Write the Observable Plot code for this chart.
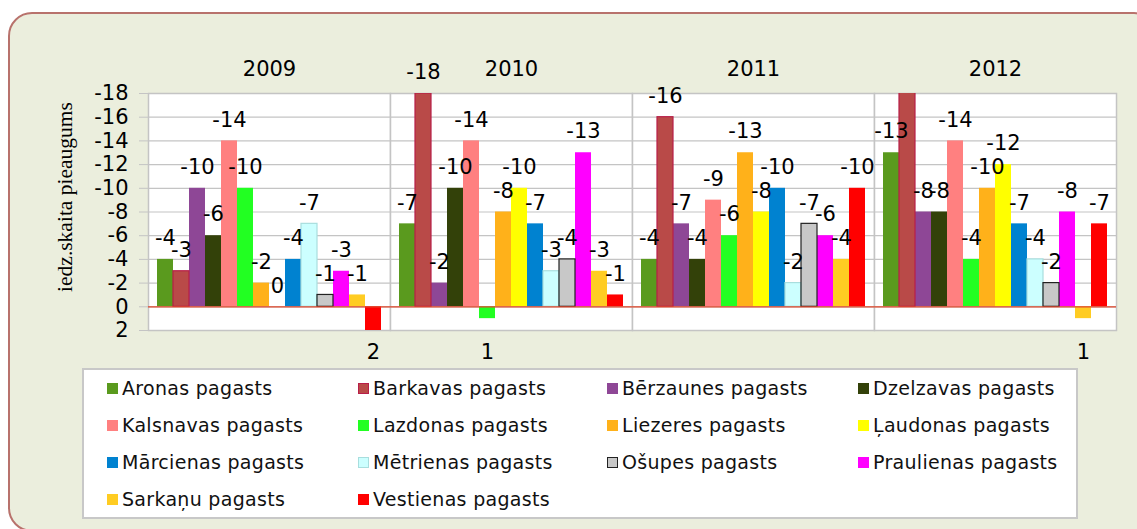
<!DOCTYPE html>
<html>
<head>
<meta charset="utf-8">
<script src="https://cdn.jsdelivr.net/npm/d3@7"></script>
<script src="https://cdn.jsdelivr.net/npm/@observablehq/plot@0.6"></script>
<style>
  html, body { margin: 0; padding: 0; background: #ffffff; width: 1137px; height: 529px; overflow: hidden; }
  #box { position: absolute; left: 8px; top: 12px; width: 1150px; height: 520px; box-sizing: border-box;
         border: 2px solid #b8726c; border-radius: 24px; background: #ebeedd; }
  #chart { position: absolute; left: 0; top: 0; }
  #chart svg { background: transparent !important; }
  #ylabel { position: absolute; left: 65px; top: 197px; transform: translate(-50%, -50%) rotate(-90deg);
            font-family: "Liberation Serif", "DejaVu Serif", serif; font-size: 21.5px; color: #000; white-space: nowrap; }
  #legend { position: absolute; left: 82px; top: 368px; width: 996px; height: 151px; box-sizing: border-box;
            background: #fff; border: 2px solid #c8c8c8; }
  .item { position: absolute; font-family: "DejaVu Sans", sans-serif; font-size: 19px; letter-spacing: 0.3px;
          color: #111; white-space: nowrap; line-height: 20px; }
  .sw { display: inline-block; width: 11px; height: 11px; margin-right: 4px; box-sizing: border-box; vertical-align: 1px; }
</style>
</head>
<body>
<div id="box"></div>
<div id="chart"></div>
<div id="ylabel">iedz.skaita pieaugums</div>
<div id="legend"></div>
<script>
const years = ["2009", "2010", "2011", "2012"];
const districts = ["Aronas pagasts", "Barkavas pagasts", "Bērzaunes pagasts", "Dzelzavas pagasts",
  "Kalsnavas pagasts", "Lazdonas pagasts", "Liezeres pagasts", "Ļaudonas pagasts",
  "Mārcienas pagasts", "Mētrienas pagasts", "Ošupes pagasts", "Praulienas pagasts",
  "Sarkaņu pagasts", "Vestienas pagasts"];
const colors = ["#5a9a1e", "#b94a48", "#8e4796", "#334109", "#ff8080", "#22ff22", "#ffb11a", "#ffff00",
  "#0082d0", "#ccffff", "#c8c8c8", "#ff00ff", "#ffcc22", "#ff0000"];
const outlines = ["none", "#b81e48", "none", "none", "none", "none", "none", "none",
  "none", "#a8dede", "#222222", "none", "none", "none"];
const v2009 = [-4, -3, -10, -6, -14, -10, -2, 0, -4, -7, -1, -3, -1, 2];
const v2010 = [-7, -18, -2, -10, -14, 1, -8, -10, -7, -3, -4, -13, -3, -1];
const v2011 = [-4, -16, -7, -4, -9, -6, -13, -8, -10, -2, -7, -6, -4, -10];
const v2012 = [-13, -20, -8, -8, -14, -4, -10, -12, -7, -4, -2, -8, 1, -7];
const yTicks = [-18, -16, -14, -12, -10, -8, -6, -4, -2, 0, 2];

const series = [v2009, v2010, v2011, v2012];
const data = years.flatMap((yr, i) => districts.map((d, j) => ({year: yr, district: d, value: series[i][j]})));
const yMin = yTicks[yTicks.length - 1], yMax = yTicks[0];

const outlined = districts.filter((d, j) => outlines[j] !== "none");

const marks = [
  Plot.frame({fill: "white", stroke: "#c4c4c4", strokeWidth: 1.5}),
  Plot.gridY(yTicks, {stroke: "#c4c4c4", strokeOpacity: 1, strokeWidth: 1.2}),
  Plot.barY(data, {fx: "year", x: "district", y: "value", fill: "district", clip: true}),
  ...outlined.map(name => Plot.barY(data.filter(d => d.district === name),
    {fx: "year", x: "district", y: "value", fill: "none", stroke: outlines[districts.indexOf(name)],
     strokeWidth: 1.2, clip: true})),
  Plot.ruleY([0], {stroke: "#e0462a", strokeWidth: 1.2}),
  Plot.text(data.filter(d => d.value <= 0 && d.value >= yMax),
    {fx: "year", x: "district", y: "value", text: d => String(d.value), dy: -21,
     fontSize: 21, fill: "#000"}),
  Plot.text(data.filter(d => d.value > 0),
    {fx: "year", x: "district", y: () => yMin, text: d => String(d.value), dy: 22,
     fontSize: 21, fill: "#000"}),
  Plot.axisY(yTicks, {tickFormat: d => String(d), fontSize: 21, tickSize: 9, tickPadding: 11,
    stroke: "#c4c4c4", fill: "#000", label: null}),
  Plot.axisFx({anchor: "top", tickSize: 0, tickPadding: 18, fontSize: 21, label: null, fill: "#000"})
];

const chart = Plot.plot({
  width: 1137,
  height: 375,
  marginLeft: 147,
  marginRight: 21,
  marginTop: 93,
  marginBottom: 45,
  style: {fontFamily: "DejaVu Sans, sans-serif", background: "transparent", color: "#000"},
  fx: {domain: years, padding: 0, label: null},
  x: {domain: districts, paddingInner: 0, paddingOuter: 0.5, axis: null},
  y: {domain: [yMin, yMax], axis: null},
  color: {domain: districts, range: colors},
  marks
});
document.getElementById("chart").appendChild(chart);

// Legend
const legend = document.getElementById("legend");
const colX = [23, 274, 523, 774];
const rowY = [8, 45, 82, 119];
districts.forEach((d, j) => {
  const item = document.createElement("div");
  item.className = "item";
  item.style.left = colX[j % 4] + "px";
  item.style.top = rowY[Math.floor(j / 4)] + "px";
  const sw = document.createElement("span");
  sw.className = "sw";
  sw.style.background = colors[j];
  if (outlines[j] !== "none") sw.style.border = "1.5px solid " + outlines[j];
  item.appendChild(sw);
  item.appendChild(document.createTextNode(d));
  legend.appendChild(item);
});
</script>
</body>
</html>
